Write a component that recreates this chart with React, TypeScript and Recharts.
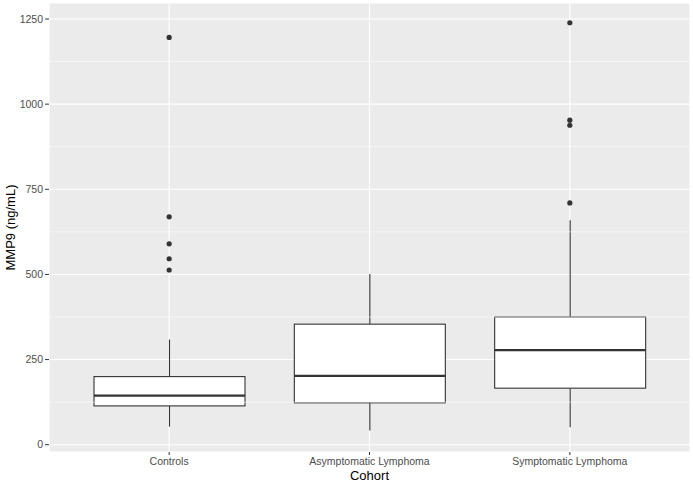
import { ComposedChart, Bar, Scatter, XAxis, YAxis, CartesianGrid, ReferenceLine } from "recharts";

const categories = ["Controls", "Asymptomatic Lymphoma", "Symptomatic Lymphoma"];
const whiskerLow = [53, 42, 51];
const q1 = [114, 123, 166];
const median = [144, 202, 278];
const q3 = [200, 354, 375];
const whiskerHigh = [309, 501, 659];
const outliers = [[1196, 669, 590, 546, 513], [], [1239, 953, 938, 710]];

const yTicks = [0, 250, 500, 750, 1000, 1250];
const minorTicks = [125, 375, 625, 875, 1125];

const FONT = "'Liberation Sans', Arial, sans-serif";
const INK = "#333333";
const OUT_KEYS = ["o1", "o2", "o3", "o4", "o5"];

const data = categories.map((name, i) => {
  const row: Record<string, unknown> = {
    name,
    range: [whiskerLow[i], whiskerHigh[i]],
    lo: whiskerLow[i],
    q1: q1[i],
    median: median[i],
    q3: q3[i],
    hi: whiskerHigh[i],
  };
  OUT_KEYS.forEach((k, j) => {
    row[k] = outliers[i][j] ?? null;
  });
  return row;
});

// box drawn inside the whisker range bar, positions from the bar's own scale
function BoxShape(props: any) {
  const { x, y, width, height, payload } = props;
  const { lo, hi } = payload;
  const k = height / (hi - lo);
  const toY = (v: number) => y + (hi - v) * k;
  const cx = x + width / 2;
  const yq1 = toY(payload.q1);
  const yq3 = toY(payload.q3);
  const ym = toY(payload.median);
  return (
    <g>
      <line x1={cx} x2={cx} y1={y} y2={yq3} stroke={INK} strokeWidth={1.1} />
      <line x1={cx} x2={cx} y1={yq1} y2={y + height} stroke={INK} strokeWidth={1.1} />
      <rect x={x} y={yq3} width={width} height={yq1 - yq3} fill="#ffffff" stroke={INK} strokeWidth={1.1} />
      <line x1={x} x2={x + width} y1={ym} y2={ym} stroke={INK} strokeWidth={2.2} />
    </g>
  );
}

function Dot(props: any) {
  const { cx, cy } = props;
  if (cy == null || Number.isNaN(cy) || cx == null) return <g />;
  return <circle cx={cx} cy={cy} r={2.6} fill={INK} />;
}

export default function App() {
  return (
    <div style={{ position: "absolute", left: 0, top: 0, background: "#fff" }}>
      <ComposedChart width={693} height={485} data={data} margin={{ top: 3, right: 3, left: 0, bottom: 0 }}>
        <CartesianGrid fill="#EBEBEB" stroke="#ffffff" strokeWidth={1.1} />
        {minorTicks.map((t) => (
          <ReferenceLine key={t} y={t} stroke="#ffffff" strokeWidth={0.55} />
        ))}
        <XAxis
          dataKey="name"
          padding={{ left: 20, right: 20 }}
          axisLine={false}
          tickLine={{ stroke: INK }}
          tickSize={3}
          tickMargin={3}
          height={33}
          tick={{ fill: "#4D4D4D", fontSize: 10.5, fontFamily: FONT }}
          label={(p: any) => {
            const vb = p.viewBox;
            return (
              <text x={vb.x + vb.width / 2} y={475} textAnchor="middle" dominantBaseline="central" fill="#000" fontSize={13} fontFamily={FONT}>
                Cohort
              </text>
            );
          }}
        />
        <YAxis
          width={49}
          domain={[-21.4, 1297]}
          ticks={yTicks}
          axisLine={false}
          tickLine={{ stroke: INK }}
          tickSize={4}
          tickMargin={2}
          tick={{ fill: "#4D4D4D", fontSize: 10.5, fontFamily: FONT }}
          label={(p: any) => {
            const vb = p.viewBox;
            const cy = vb.y + vb.height / 2;
            return (
              <text x={10} y={cy} transform={`rotate(-90 10 ${cy})`} textAnchor="middle" dominantBaseline="central" fill="#000" fontSize={13} fontFamily={FONT}>
                MMP9 (ng/mL)
              </text>
            );
          }}
        />
        <Bar dataKey="range" barSize={151} shape={<BoxShape />} isAnimationActive={false} />
        {OUT_KEYS.map((k) => (
          <Scatter key={k} dataKey={k} shape={<Dot />} isAnimationActive={false} />
        ))}
      </ComposedChart>
    </div>
  );
}
